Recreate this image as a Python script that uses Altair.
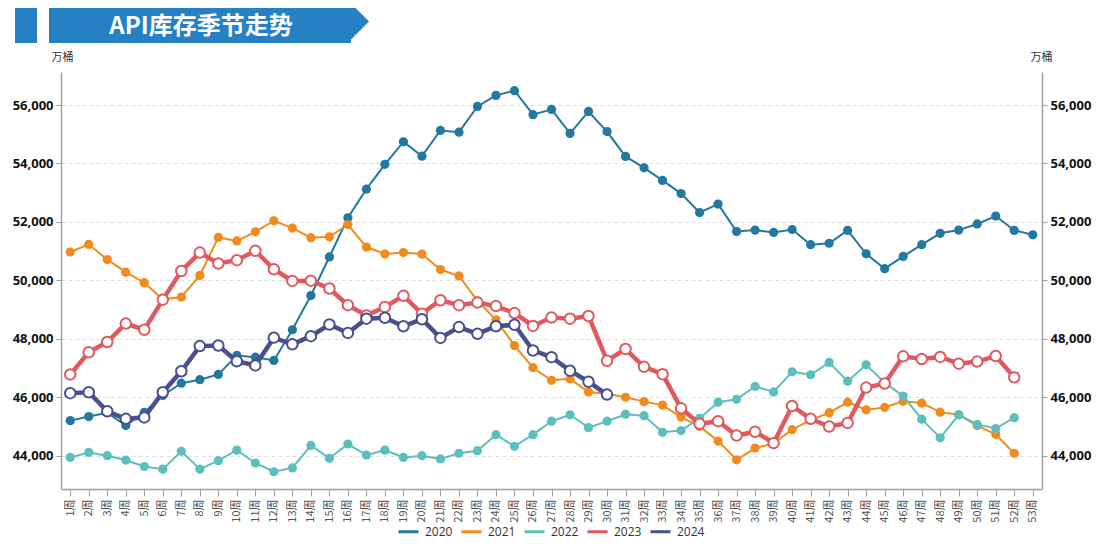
import altair as alt
import pandas as pd

weeks = ["1周", "2周", "3周", "4周", "5周", "6周", "7周", "8周", "9周", "10周",
         "11周", "12周", "13周", "14周", "15周", "16周", "17周", "18周", "19周", "20周",
         "21周", "22周", "23周", "24周", "25周", "26周", "27周", "28周", "29周", "30周",
         "31周", "32周", "33周", "34周", "35周", "36周", "37周", "38周", "39周", "40周",
         "41周", "42周", "43周", "44周", "45周", "46周", "47周", "48周", "49周", "50周",
         "51周", "52周", "53周"]
years = ["2020", "2021", "2022", "2023", "2024"]
colors = ["#23789f", "#f28b1d", "#5cbfbe", "#df5a5f", "#4a4f8d"]

y2020 = [45200, 45340, 45470, 45030, 45480, 46060, 46480, 46600, 46780, 47430,
         47370, 47260, 48310, 49480, 50800, 52140, 53120, 53970, 54740, 54250,
         55130, 55070, 55950, 56330, 56490, 55670, 55850, 55030, 55780, 55090,
         54240, 53850, 53420, 52970, 52320, 52610, 51670, 51720, 51640, 51740,
         51220, 51270, 51710, 50910, 50400, 50820, 51220, 51610, 51720, 51930,
         52200, 51710, 51560]
y2021 = [50970, 51230, 50710, 50280, 49920, 49350, 49430, 50170, 51470, 51350,
         51660, 52040, 51790, 51460, 51490, 51910, 51140, 50900, 50950, 50900,
         50370, 50150, 49300, 48650, 47770, 47010, 46580, 46630, 46180, 46120,
         46000, 45850, 45730, 45320, 45000, 44500, 43860, 44260, 44420, 44890,
         45220, 45470, 45830, 45570, 45650, 45860, 45800, 45490, 45400, 45030,
         44730, 44080]
y2022 = [43940, 44110, 44000, 43850, 43630, 43540, 44150, 43540, 43830, 44190,
         43750, 43450, 43580, 44350, 43910, 44400, 44020, 44190, 43940, 44000,
         43890, 44080, 44170, 44720, 44320, 44720, 45180, 45400, 44960, 45180,
         45420, 45370, 44800, 44860, 45280, 45830, 45930, 46370, 46180, 46870,
         46770, 47190, 46550, 47110, 46500, 46040, 45250, 44610, 45400, 45070,
         44930, 45300]
y2023 = [46780, 47540, 47890, 48520, 48310, 49340, 50320, 50950, 50580, 50690,
         51010, 50380, 49980, 49990, 49720, 49150, 48800, 49090, 49470, 48860,
         49320, 49150, 49240, 49120, 48880, 48440, 48730, 48690, 48780, 47250,
         47650, 47040, 46790, 45620, 45090, 45180, 44690, 44820, 44430, 45700,
         45260, 45000, 45120, 46330, 46470, 47400, 47310, 47380, 47150, 47220,
         47410, 46680]
y2024 = [46140, 46170, 45520, 45260, 45310, 46170, 46890, 47750, 47770, 47230,
         47090, 48040, 47810, 48090, 48490, 48200, 48690, 48720, 48430, 48670,
         48030, 48400, 48170, 48430, 48480, 47600, 47370, 46910, 46530, 46090]

y_ticks = [44000, 46000, 48000, 50000, 52000, 54000, 56000]
title_text = "API库存季节走势"
unit_text = "万桶"

series = {"2020": y2020, "2021": y2021, "2022": y2022, "2023": y2023, "2024": y2024}
rows = []
for yr, vals in series.items():
    for w, v in zip(weeks, vals):
        rows.append({"week": w, "year": yr, "value": v})
df = pd.DataFrame(rows)

W, H = 981, 417
CJK = "Noto Sans CJK SC"
NUM = "Open Sans"

x_axis = alt.Axis(title=None, labelAngle=-90, labelFont=CJK, labelFontSize=11,
                  labelColor="#555555", labelPadding=3, tickSize=7, tickColor="#a0a0a0",
                  domainColor="#a0a0a0", domainWidth=1.5, grid=False, labelOverlap=False)
x_enc = alt.X("week:N", sort=weeks,
              scale=alt.Scale(type="point", domain=weeks, padding=0.5), axis=x_axis)
y_scale = alt.Scale(domain=[42860, 57130], nice=False, zero=False)


def y_axis(orient, grid, title_x):
    return alt.Axis(orient=orient, values=y_ticks, format=",.0f", grid=grid,
                    gridDash=[4, 3], gridColor="#dedede", gridWidth=1,
                    labelFont=NUM, labelFontSize=13, labelFontWeight="bold",
                    labelColor="#111111", labelPadding=3, tickSize=5,
                    tickColor="#a0a0a0", domainColor="#a0a0a0", domainWidth=1.5,
                    title=unit_text, titleAngle=0, titleAlign="left",
                    titleBaseline="middle", titleX=title_x, titleY=-15,
                    titleFont=CJK, titleFontSize=11, titleFontWeight="normal",
                    titleColor="#333333")


legend = alt.Legend(orient="none", legendX=336, legendY=448, direction="horizontal",
                    title=None, symbolType="stroke", symbolSize=400,
                    symbolStrokeWidth=3, labelFont=NUM, labelFontSize=12,
                    labelColor="#333333", labelOffset=5, columnPadding=2)
color_enc = alt.Color("year:N", scale=alt.Scale(domain=years, range=colors), legend=legend)

layers = []
for i, yr in enumerate(years):
    c = colors[i]
    thick = yr in ("2023", "2024")
    base = alt.Chart(df).transform_filter(alt.datum.year == yr)
    if i == 0:
        ax_line = y_axis("left", True, -10)
        ax_pt = y_axis("right", False, -12)
    else:
        ax_line = None
        ax_pt = None
    line = base.mark_line(strokeWidth=4.5 if thick else 2).encode(
        x=x_enc,
        y=alt.Y("value:Q", scale=y_scale, axis=ax_line),
        color=color_enc,
    )
    if thick:
        pt_mark = base.mark_point(shape="circle", filled=True, fill="white", stroke=c,
                                  strokeWidth=2, size=110, opacity=1)
    else:
        pt_mark = base.mark_point(shape="circle", filled=True, fill=c, strokeWidth=0,
                                  size=85, opacity=1)
    pts = pt_mark.encode(x=x_enc, y=alt.Y("value:Q", scale=y_scale, axis=ax_pt))
    layers += [line, pts]

dummy = pd.DataFrame({"a": [0]})
banner_color = "#2580c4"
bar_small = alt.Chart(dummy).mark_rect(color=banner_color).encode(
    x=alt.value(-46), x2=alt.value(-24), y=alt.value(-64), y2=alt.value(-29))
bar_main = alt.Chart(dummy).mark_rect(color=banner_color).encode(
    x=alt.value(-12), x2=alt.value(290), y=alt.value(-64), y2=alt.value(-29))
tip = alt.Chart(dummy).mark_point(shape="M-1,-1L0,0L-1,1Z", filled=True,
                                  fill=banner_color, size=1849, opacity=1,
                                  strokeWidth=0).encode(x=alt.value(308), y=alt.value(-50.5))
title = alt.Chart(dummy).mark_text(text=title_text, font=CJK, fontSize=24,
                                   fontWeight="bold", color="white", align="center",
                                   baseline="middle").encode(x=alt.value(140), y=alt.value(-45))

chart = alt.layer(*layers, bar_small, bar_main, tip, title).resolve_axis(
    y="independent"
).properties(
    width=W, height=H,
    autosize=alt.AutoSizeParams(type="none"),
    padding={"left": 53, "top": 64, "right": 52, "bottom": 51},
).configure_view(stroke="transparent")

chart.save("out.html", embed_options={"renderer": "svg", "actions": False})
